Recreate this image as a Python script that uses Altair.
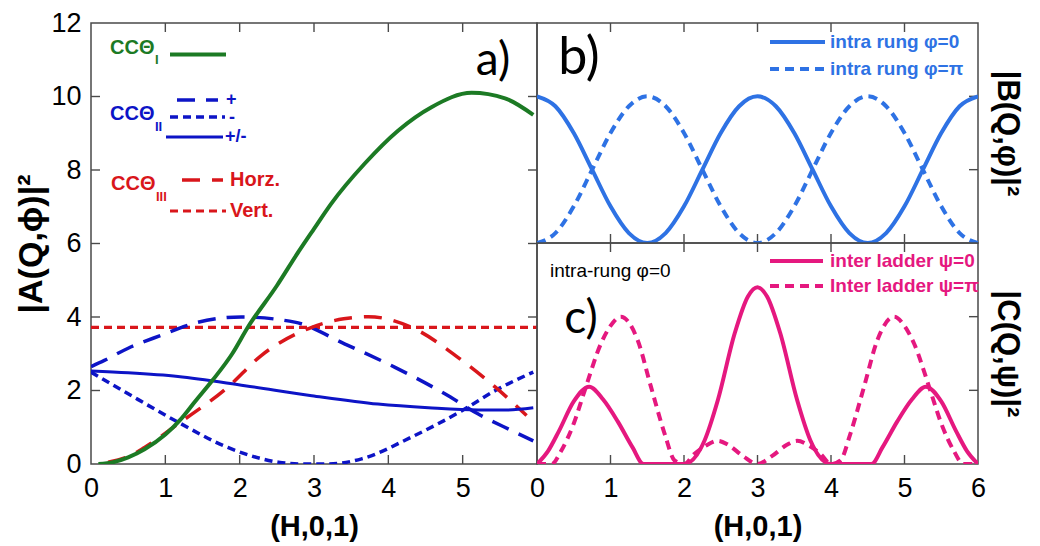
import altair as alt
import pandas as pd

# ---------------- data ----------------
# panel a : |A(Q,phi)|^2
ccI_x = [0.1, 0.3, 0.5, 0.72, 1.0, 1.2, 1.4, 1.64, 1.9, 2.11, 2.5, 2.79, 3.0, 3.23, 3.68, 4.13, 4.58, 5.12, 5.57, 5.95]
ccI_y = [0.0, 0.05, 0.18, 0.4, 0.8, 1.2, 1.7, 2.29, 3.0, 3.72, 4.85, 5.77, 6.4, 7.08, 8.17, 9.07, 9.71, 10.1, 9.95, 9.5]

ccII_plus_x = [0.0, 0.18, 0.5, 0.94, 1.39, 2.02, 2.74, 3.41, 4.09, 4.76, 5.21, 5.66, 5.95]
ccII_plus_y = [2.65, 2.82, 3.15, 3.5, 3.83, 4.0, 3.86, 3.27, 2.63, 1.91, 1.36, 0.91, 0.63]

ccII_minus_x = [0.0, 0.5, 1.17, 1.84, 2.52, 2.8, 3.0, 3.2, 3.64, 4.31, 4.99, 5.44, 5.95]
ccII_minus_y = [2.5, 1.91, 1.14, 0.45, 0.05, 0.0, 0.0, 0.0, 0.14, 0.73, 1.45, 2.0, 2.5]

ccII_pm_x = [0.0, 0.5, 1.17, 2.07, 2.97, 3.86, 4.54, 5.21, 5.6, 5.95]
ccII_pm_y = [2.53, 2.48, 2.38, 2.13, 1.86, 1.63, 1.53, 1.47, 1.47, 1.53]

ccIII_horz_x = [0.23, 0.5, 0.72, 1.17, 1.84, 2.29, 2.97, 3.4, 3.73, 4.31, 4.99, 5.44, 5.86]
ccIII_horz_y = [0.05, 0.2, 0.45, 1.09, 2.09, 2.95, 3.72, 3.95, 4.01, 3.72, 2.82, 2.09, 1.32]

ccIII_vert_x = [0.0, 6.0]
ccIII_vert_y = [3.72, 3.72]

# panel b : |B(Q,phi)|^2
b_x = [0, 0.25, 0.5, 0.75, 1.0, 1.25, 1.5, 1.75, 2.0, 2.25, 2.5, 2.75, 3.0,
       3.25, 3.5, 3.75, 4.0, 4.25, 4.5, 4.75, 5.0, 5.25, 5.5, 5.75, 6.0]
b_phi0 = [10, 9.73, 9.0, 8.0, 7.0, 6.27, 6.0, 6.27, 7.0, 8.0, 9.0, 9.73, 10,
          9.73, 9.0, 8.0, 7.0, 6.27, 6.0, 6.27, 7.0, 8.0, 9.0, 9.73, 10]
b_phipi = [6, 6.27, 7.0, 8.0, 9.0, 9.73, 10, 9.73, 9.0, 8.0, 7.0, 6.27, 6,
           6.27, 7.0, 8.0, 9.0, 9.73, 10, 9.73, 9.0, 8.0, 7.0, 6.27, 6]

# panel c : |C(Q,psi)|^2
c0_x = [0, 0.15, 0.3, 0.5, 0.71, 0.9, 1.1, 1.3, 1.45, 1.7, 2.0, 2.28, 2.46, 2.69, 2.87, 3.0,
        3.13, 3.31, 3.54, 3.72, 4.0, 4.3, 4.55, 4.7, 4.9, 5.1, 5.29, 5.5, 5.7, 5.85, 6.0]
c0_y = [0, 0.35, 0.9, 1.7, 2.1, 1.75, 1.15, 0.45, 0, 0, 0, 0.64, 1.73, 3.55, 4.55, 4.8,
        4.55, 3.55, 1.73, 0.64, 0, 0, 0, 0.45, 1.15, 1.75, 2.1, 1.7, 0.9, 0.35, 0]
cpi_x = [0, 0.2, 0.33, 0.5, 0.65, 0.87, 1.0, 1.14, 1.37, 1.55, 1.74, 1.87, 2.0, 2.14, 2.3, 2.46, 2.6, 2.8, 3.0,
         3.2, 3.4, 3.54, 3.7, 3.86, 4.0, 4.13, 4.26, 4.45, 4.63, 4.86, 5.0, 5.13, 5.35, 5.5, 5.67, 5.8, 6.0]
cpi_y = [0, 0, 0.36, 1.1, 2.0, 3.27, 3.75, 4.0, 3.36, 2.1, 0.8, 0.1, 0, 0.27, 0.5, 0.63, 0.52, 0.22, 0,
         0.22, 0.52, 0.63, 0.5, 0.27, 0, 0.1, 0.8, 2.1, 3.36, 4.0, 3.75, 3.27, 2.0, 1.1, 0.36, 0, 0]

x_ticks = [1, 2, 3, 4, 5]
a_xlabels = [0, 1, 2, 3, 4, 5]
c_xlabels = [0, 1, 2, 3, 4, 5, 6]
a_yticks = [2, 4, 6, 8, 10]
a_ylabels = [0, 2, 4, 6, 8, 10, 12]
b_yticks = [8, 10]
c_yticks = [2, 4]

a_ytitle = "|A(Q,\u03d5)|\u00b2"
b_ytitle = "|B(Q,\u03c6)|\u00b2"
c_ytitle = "|C(Q,\u03c8)|\u00b2"
x_title = "(H,0,1)"
cc_label = "CC\u0398"
cc_subs = ["I", "II", "III"]
ccII_names = ["+", "-", "+/-"]
ccIII_names = ["Horz.", "Vert."]
b_names = ["intra rung \u03c6=0", "intra rung \u03c6=\u03c0"]
c_names = ["inter ladder \u03c8=0", "Inter ladder \u03c8=\u03c0"]
c_note = "intra-rung \u03c6=0"
panel_tags = ["a)", "b)", "c)"]

# ---------------- styles ----------------
GREEN = "#1c7a24"
DBLUE = "#0d14c6"
RED = "#d9161b"
LBLUE = "#2e72e4"
MAG = "#e5187f"
FRAME = "#4a4a4a"
SANS = "Liberation Sans"
TAGFONT = "Lato"

WA, HA = 446, 441
WB, HB = 441, 220
HC = 221
TL = 9  # inward tick length


def xenc(domain, axis):
    return alt.X("x:Q", scale=alt.Scale(domain=domain, nice=False, zero=False), axis=axis)


def yenc(domain, axis):
    return alt.Y("y:Q", scale=alt.Scale(domain=domain, nice=False, zero=False), axis=axis)


def curve(xs, ys, X, Y, color, width, dash=None):
    kw = dict(color=color, strokeWidth=width, interpolate="monotone", clip=True)
    if dash:
        kw["strokeDash"] = dash
    return alt.Chart(pd.DataFrame({"x": xs, "y": ys})).mark_line(**kw).encode(x=X, y=Y)


def ticks(X, Y, xt, yt, W, H, left=True, right=True, top=True, bottom=True):
    out = []
    rk = dict(color=FRAME, strokeWidth=1.4)
    dx = pd.DataFrame({"x": xt})
    dy = pd.DataFrame({"y": yt})
    if top:
        out.append(alt.Chart(dx).mark_rule(**rk).encode(x=X, y=alt.value(0), y2=alt.value(TL)))
    if bottom:
        out.append(alt.Chart(dx).mark_rule(**rk).encode(x=X, y=alt.value(H), y2=alt.value(H - TL)))
    if left:
        out.append(alt.Chart(dy).mark_rule(**rk).encode(y=Y, x=alt.value(0), x2=alt.value(TL)))
    if right:
        out.append(alt.Chart(dy).mark_rule(**rk).encode(y=Y, x=alt.value(W), x2=alt.value(W - TL)))
    return out


def label(text, x, y, size, color, weight="bold", font=SANS, align="left"):
    return alt.Chart(pd.DataFrame({"t": [text]})).mark_text(
        font=font, fontSize=size, fontWeight=weight, color=color, align=align, baseline="middle"
    ).encode(text="t:N", x=alt.value(x), y=alt.value(y))


def seg(x1, x2, y, color, width, dash=None):
    kw = dict(color=color, strokeWidth=width)
    if dash:
        kw["strokeDash"] = dash
    return alt.Chart(pd.DataFrame({"k": [0]})).mark_rule(**kw).encode(
        x=alt.value(x1), x2=alt.value(x2), y=alt.value(y))


LONG = [18, 11]
SHORT = [8, 5]
BDASH = [9, 6]


def xaxis(values):
    return alt.Axis(values=values, ticks=False, domain=False, grid=False, labelFlush=False,
                    labelFont=SANS, labelFontSize=27, labelColor="black", labelPadding=11,
                    title=x_title, titleFont=SANS, titleFontSize=29, titleFontWeight="bold",
                    titleColor="black", titlePadding=11)


def raxis(title):
    return alt.Axis(orient="right", labels=False, ticks=False, domain=False, grid=False,
                    title=title, titleFont=SANS, titleFontSize=31, titleFontWeight="bold",
                    titleColor="black", titleAngle=90, titlePadding=12)


# ---------------- panel a ----------------
XA = xenc([0, 6], xaxis(a_xlabels))
YA = yenc([0, 12], alt.Axis(values=a_ylabels, ticks=False, domain=False, grid=False,
                            labelFont=SANS, labelFontSize=27, labelColor="black", labelPadding=10,
                            title=a_ytitle, titleFont=SANS, titleFontSize=34, titleFontWeight="bold",
                            titleColor="black", titlePadding=2))

a_layers = ticks(XA, YA, x_ticks, a_yticks, WA, HA) + [
    curve(ccIII_vert_x, ccIII_vert_y, XA, YA, RED, 3.2, SHORT),
    curve(ccII_minus_x, ccII_minus_y, XA, YA, DBLUE, 3.5, SHORT),
    curve(ccII_plus_x, ccII_plus_y, XA, YA, DBLUE, 3.5, LONG),
    curve(ccIII_horz_x, ccIII_horz_y, XA, YA, RED, 3.5, [18, 12]),
    curve(ccII_pm_x, ccII_pm_y, XA, YA, DBLUE, 3),
    curve(ccI_x, ccI_y, XA, YA, GREEN, 4),
    # legend
    label(cc_label, 19, 25, 20, GREEN),
    label(cc_subs[0], 64, 37, 13, GREEN),
    seg(79, 135, 31.5, GREEN, 4),
    label(cc_label, 19, 91, 20, DBLUE),
    label(cc_subs[1], 64, 104, 13, DBLUE),
    seg(86, 127, 77, DBLUE, 3.5, LONG),
    label(ccII_names[0], 135, 77, 18, DBLUE),
    seg(79, 134, 94, DBLUE, 3.5, SHORT),
    label(ccII_names[1], 138, 95, 18, DBLUE),
    seg(75, 132, 114, DBLUE, 3),
    label(ccII_names[2], 134, 114, 18, DBLUE),
    label(cc_label, 20, 161, 20, RED),
    label(cc_subs[2], 65, 174, 13, RED),
    seg(91, 132, 157, RED, 3.5, [18, 12]),
    label(ccIII_names[0], 139, 157, 20, RED),
    seg(79, 135, 188, RED, 3.2, SHORT),
    label(ccIII_names[1], 139, 188, 20, RED),
    label(panel_tags[0], 402, 38, 46, "black", "normal", TAGFONT, "center"),
]
panel_a = alt.layer(*a_layers).properties(width=WA, height=HA)

# ---------------- panel b ----------------
XB = xenc([0, 6], None)
YB = yenc([6, 12], raxis(b_ytitle))
b_layers = ticks(XB, YB, x_ticks, b_yticks, WB, HB, left=False) + [
    curve(b_x, b_phipi, XB, YB, LBLUE, 4, BDASH),
    curve(b_x, b_phi0, XB, YB, LBLUE, 4),
    seg(233, 288, 19, LBLUE, 4),
    label(b_names[0], 293, 19, 19, LBLUE),
    seg(233, 288, 46, LBLUE, 4, BDASH),
    label(b_names[1], 293, 46, 19, LBLUE),
    label(panel_tags[1], 42, 35, 52, "black", "normal", TAGFONT, "center"),
]
panel_b = alt.layer(*b_layers).properties(width=WB, height=HB)

# ---------------- panel c ----------------
XC = xenc([0, 6], xaxis(c_xlabels))
YC = yenc([0, 6], raxis(c_ytitle))
c_layers = ticks(XC, YC, x_ticks, c_yticks, WB, HC, left=False) + [
    curve(cpi_x, cpi_y, XC, YC, MAG, 4, BDASH),
    curve(c0_x, c0_y, XC, YC, MAG, 4),
    seg(233, 286, 18, MAG, 4),
    label(c_names[0], 293, 18, 19, MAG),
    seg(233, 286, 43, MAG, 4, BDASH),
    label(c_names[1], 293, 43, 19, MAG),
    label(c_note, 13, 28, 19, "black", "normal"),
    label(panel_tags[2], 44, 76, 46, "black", "normal", TAGFONT, "center"),
]
panel_c = alt.layer(*c_layers).properties(width=WB, height=HC)

right = alt.vconcat(panel_b, panel_c, spacing=0, bounds="flush")
chart = alt.hconcat(panel_a, right, spacing=0, bounds="flush").properties(
    padding={"left": 6, "top": 0, "right": 2, "bottom": 0}, background="white"
).configure_view(stroke=FRAME, strokeWidth=1.5)

chart.save("out.html", embed_options={"renderer": "svg", "actions": False})
